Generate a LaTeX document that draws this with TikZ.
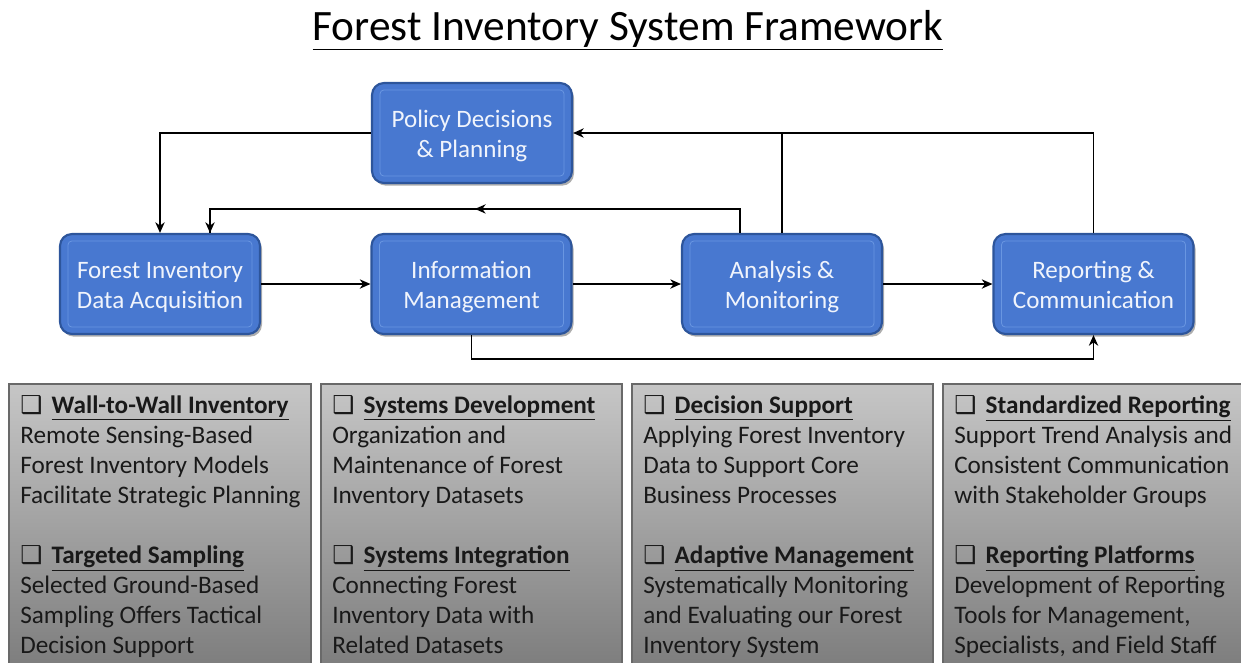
\documentclass[tikz,border=0pt]{standalone}
\usepackage{fontspec}
\setmainfont{Carlito}
\newfontfamily\symfont{DejaVu Sans}
\usetikzlibrary{arrows.meta,shadows,calc,decorations.markings}
\definecolor{boxfill}{RGB}{72,120,208}
\definecolor{boxedge}{RGB}{45,85,155}
\definecolor{boxinner}{RGB}{105,150,225}
\definecolor{boxtext}{RGB}{240,244,252}
\definecolor{paneltop}{RGB}{198,198,198}
\definecolor{panelbot}{RGB}{125,125,125}
\definecolor{paneledge}{RGB}{105,105,105}
\newcommand{\chk}{{\symfont\fontsize{18.5pt}{18pt}\selectfont ❑}}
\tikzset{
  procbox/.style={rounded corners=9pt, fill=boxfill, draw=boxedge, line width=1.6pt,
    minimum width=150pt, minimum height=75pt, inner sep=0pt,
    drop shadow={shadow xshift=1.5pt, shadow yshift=-2pt, opacity=0.45, fill=black!70}},
  boxlabel/.style={align=center, inner sep=0pt, text=boxtext,
    font=\fontsize{18.8pt}{22.5pt}\selectfont},
  innerframe/.style={draw=boxinner, line width=0.6pt, rounded corners=3pt},
  conn/.style={line width=1.1pt, draw=black},
  arr/.style={conn, -{Stealth[length=8pt,width=7pt,inset=2.5pt]}},
  panel/.style={draw=paneledge, line width=0.8pt, top color=paneltop, bottom color=panelbot},
  paneltext/.style={anchor=north west, inner sep=0pt, align=left,
    font=\fontsize{18.9pt}{22.5pt}\selectfont, text=black!90},
}
\newcommand{\hd}[1]{\chk\hspace{7pt}\textbf{\underline{#1}}}
\begin{document}
\begin{tikzpicture}[x=0.75pt,y=-0.75pt]
\useasboundingbox (0,0) rectangle (1241,662);
% title
\node[font=\fontsize{32.5pt}{38pt}\selectfont, text=black] (title) at (628,30) {\underline{Forest Inventory System Framework}};
% process boxes
\node[procbox] (pol) at (472,133) {};
\node[procbox] (fid) at (160,284) {};
\node[procbox] (inf) at (471.5,284) {};
\node[procbox] (ana) at (782,284) {};
\node[procbox] (rep) at (1093.5,284) {};
\foreach \n in {pol,fid,inf,ana,rep}{
  \draw[innerframe] ($(\n.north west)+(9,8)$) rectangle ($(\n.south east)+(-9,-8)$);
}
\node[boxlabel] (polt) at ($(pol)+(0,3)$) {Policy Decisions\\\& Planning};
\node[boxlabel] (fidt) at ($(fid)+(0,3)$) {Forest Inventory\\Data Acquisition};
\node[boxlabel] (inft) at ($(inf)+(0,3)$) {Information\\Management};
\node[boxlabel] (anat) at ($(ana)+(0,3)$) {Analysis \&\\Monitoring};
\node[boxlabel] (rept) at ($(rep)+(0,1)$) {Reporting \&\\Communication};
% connectors
\draw[arr] (pol.west) -| (fid.north);
\draw[arr] (rep.north) |- (pol.east);
\draw[conn] (ana.north) -- (ana.north |- pol.east);
\draw[conn, postaction={decorate}, decoration={markings, mark=at position 0.5 with {\arrow{Stealth[length=8pt,width=7pt,inset=2.5pt]}}}]
  ($(ana.north)+(-42,0)$) -- ++(0,-24) -| ($(fid.north)+(50,0)$);
\draw[arr] ($(fid.north)+(50,-24)$) -- ($(fid.north)+(50,0)$);
\draw[arr] (fid.east) -- (inf.west);
\draw[arr] (inf.east) -- (ana.west);
\draw[arr] (ana.east) -- (rep.west);
\draw[arr] (inf.south) -- ++(0,24) -| (rep.south);
% panels
\path[panel] (9,384) rectangle (311,668);
\path[panel] (321,384) rectangle (622,668);
\path[panel] (632,384) rectangle (933,668);
\path[panel] (943,384) rectangle (1250,668);
\node[paneltext] (t1) at (20,395.5) {\hd{Wall-to-Wall Inventory}\\Remote Sensing-Based\\Forest Inventory Models\\Facilitate Strategic Planning\\[22.5pt]\hd{Targeted Sampling}\\Selected Ground-Based\\Sampling Offers Tactical\\Decision Support};
\node[paneltext] (t2) at (332,395.5) {\hd{Systems Development}\\Organization and\\Maintenance of Forest\\Inventory Datasets\\[22.5pt]\hd{Systems Integration}\\Connecting Forest\\Inventory Data with\\Related Datasets};
\node[paneltext] (t3) at (643,395.5) {\hd{Decision Support}\\Applying Forest Inventory\\Data to Support Core\\Business Processes\\[22.5pt]\hd{Adaptive Management}\\Systematically Monitoring\\and Evaluating our Forest\\Inventory System};
\node[paneltext] (t4) at (954,395.5) {\hd{Standardized Reporting}\\Support Trend Analysis and\\Consistent Communication\\with Stakeholder Groups\\[22.5pt]\hd{Reporting Platforms}\\Development of Reporting\\Tools for Management,\\Specialists, and Field Staff};
\end{tikzpicture}
\end{document}
